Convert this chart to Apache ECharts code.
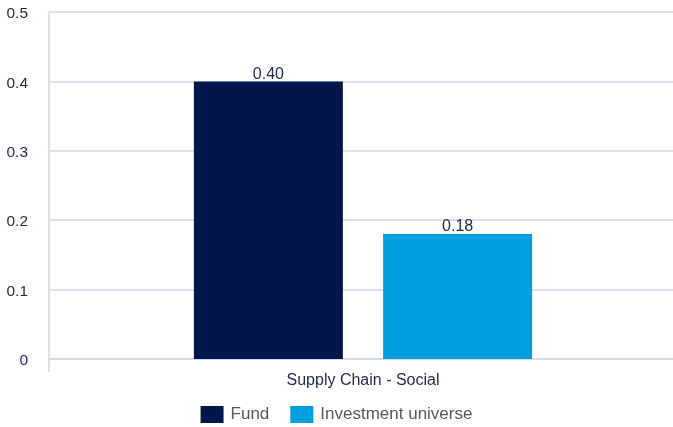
<!DOCTYPE html>
<html>
<head>
<meta charset="utf-8">
<script src="https://cdn.jsdelivr.net/npm/echarts@6/dist/echarts.min.js"></script>
<style>
  html, body { margin: 0; padding: 0; background: #ffffff; }
  #chart { width: 673px; height: 427px; }
</style>
</head>
<body>
<div id="chart"></div>
<script>
// Chart data
const categories = ['Supply Chain - Social'];
const seriesNames = ['Fund', 'Investment universe'];
const fundValues = [0.40];
const universeValues = [0.18];
const yTicks = { min: 0, max: 0.5, interval: 0.1 };

const colors = ['#03164b', '#009fdf'];
const gridColor = '#cfd9e6';
const labelFont = 'Liberation Sans, Arial, sans-serif';

const chart = echarts.init(document.getElementById('chart'), null, { renderer: 'canvas' });

const barLabel = {
  show: true,
  position: 'top',
  distance: -1,
  color: '#1d2a4d',
  fontSize: 16,
  fontFamily: labelFont,
  formatter: p => p.value.toFixed(2)
};

chart.setOption({
  animation: false,
  backgroundColor: '#ffffff',
  // plot area runs slightly past the right edge of the canvas
  grid: {
    left: 49, width: 628, top: 12, bottom: 68,
    containLabel: false,
    outerBoundsMode: 'none'
  },
  legend: {
    top: 401,
    left: 'center',
    itemWidth: 23,
    itemHeight: 17,
    itemGap: 21,
    icon: 'rect',
    textStyle: { color: '#595959', fontSize: 17, fontFamily: labelFont, padding: [0, 0, 0, 2] },
    data: seriesNames
  },
  xAxis: {
    type: 'category',
    data: categories,
    axisLine: { show: true, lineStyle: { color: gridColor, width: 1.5 } },
    axisTick: { show: true, length: 13, lineStyle: { color: gridColor, width: 1.5 } },
    axisLabel: { color: '#1d2a4d', fontSize: 16, fontFamily: labelFont, margin: 14 }
  },
  yAxis: {
    type: 'value',
    min: yTicks.min,
    max: yTicks.max,
    interval: yTicks.interval,
    axisLine: { show: true, lineStyle: { color: gridColor, width: 1.5 } },
    axisTick: { show: false },
    splitLine: { show: true, lineStyle: { color: gridColor, width: 1.5 } },
    axisLabel: {
      margin: 21,
      formatter: v => '{t|' + (v === 0 ? '0' : v.toFixed(1)) + '}',
      rich: {
        t: {
          color: '#1d2a4d',
          fontSize: 15.5,
          fontFamily: labelFont,
          padding: [4, 0, 0, 0]
        }
      }
    }
  },
  series: [
    {
      name: seriesNames[0],
      type: 'bar',
      data: fundValues,
      barWidth: 149,
      barGap: '27%',
      itemStyle: { color: colors[0] },
      label: barLabel
    },
    {
      name: seriesNames[1],
      type: 'bar',
      data: universeValues,
      barWidth: 149,
      barGap: '27%',
      itemStyle: { color: colors[1] },
      label: barLabel
    }
  ]
});
</script>
</body>
</html>
